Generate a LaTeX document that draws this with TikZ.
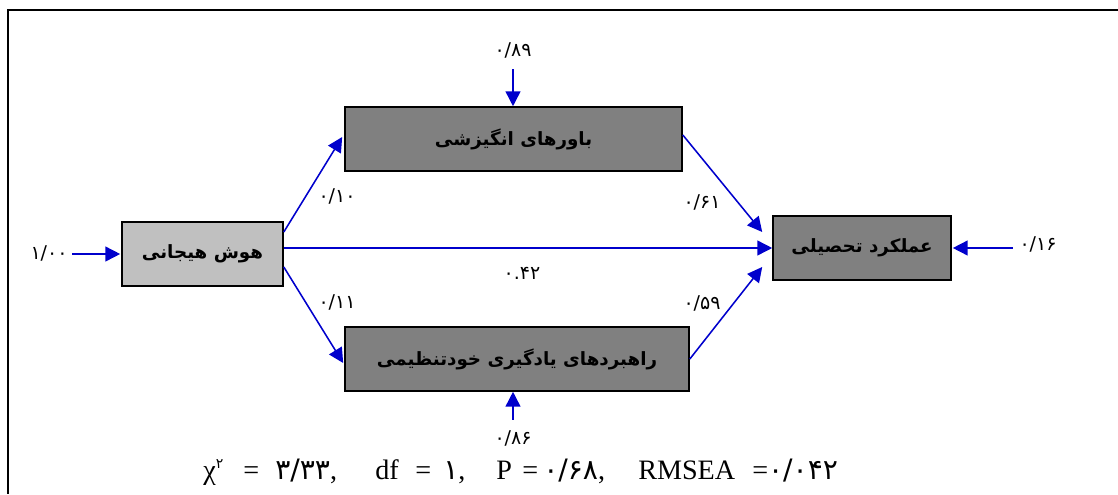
\documentclass[tikz,border=0pt]{standalone}
\usepackage{fontspec}
\setmainfont{Liberation Serif}
\newfontfamily\arabicfont[Script=Arabic]{DejaVu Sans}
\TeXXeTstate=1
\usetikzlibrary{arrows.meta,calc}
\definecolor{arrblue}{RGB}{0,0,204}
\definecolor{darkbox}{RGB}{128,128,128}
\definecolor{lightbox}{RGB}{192,192,192}
\newcommand\pxbox[2]{\makebox[\dimexpr 0.025cm*#1\relax][l]{#2}}
\newcommand\fadig[1]{{\arabicfont\fontsize{20}{22}\selectfont #1}}
\begin{document}
\begin{tikzpicture}[x=0.025cm,y=-0.025cm,
  box/.style={draw=black,line width=1.1pt,inner sep=0pt,minimum height=1.6cm,font=\arabicfont\bfseries\fontsize{13}{15}\selectfont},
  arr/.style={draw=arrblue,line width=1.1pt,-{Triangle[length=10.5pt,width=10.5pt]}},
  lbl/.style={inner sep=1pt,font=\arabicfont\fontsize{13.5}{15}\selectfont}]
\useasboundingbox (0,0) rectangle (1118,494);
\draw[line width=1.6pt] (1118,10) -- (8,10) -- (8,494);
% boxes
\node[box,fill=lightbox,minimum width=4.025cm] (lb) at (202.5,254) {\beginR هوش هیجانی\endR};
\node[box,fill=darkbox,minimum width=8.425cm] (tb) at (513.5,139) {\beginR باورهای انگیزشی\endR};
\node[box,fill=darkbox,minimum width=8.6cm] (bb) at (517,359) {\beginR راهبردهای یادگیری خودتنظیمی\endR};
\node[box,fill=darkbox,minimum width=4.45cm] (rb) at (862,248) {\beginR عملکرد تحصیلی\endR};
% error terms
\node[lbl] (e1) at (49,253) {۱/۰۰};
\node[lbl] (e2) at (513,50) {۰/۸۹};
\node[lbl] (e3) at (513,438) {۰/۸۶};
\node[lbl] (e4) at (1038,244) {۰/۱۶};
\draw[arr] ($(e1.east)+(3,1)$) -- ($(lb.west)+(-1,0)$);
\draw[arr] ($(e2.south)+(0,10)$) -- (e2 |- tb.north);
\draw[arr] ($(e3.north)+(0,-9)$) -- (e3 |- bb.south);
\draw[arr] ($(e4.west)+(-5,4)$) -- ($(rb.east)+(1,0)$);
% paths
\draw[arr] ($(lb.east)+(0,-22)$) -- ($(tb.west)+(-2,-2)$);
\draw[arr] ($(lb.east)+(0,13)$) -- ($(bb.west)+(-1,4)$);
\draw[arr] (lb.east |- rb.west) -- (rb.west);
\draw[arr] ($(tb.east)+(0,-4)$) -- ($(rb.west)+(-10,-16)$);
\draw[arr] (bb.east) -- ($(rb.west)+(-10,19)$);
% coefficients
\node[lbl] (c1) at (337,196) {۰/۱۰};
\node[lbl] (c2) at (337,302) {۰/۱۱};
\node[lbl] (c3) at (702,202) {۰/۶۱};
\node[lbl] (c4) at (702,303) {۰/۵۹};
\node[lbl] (c5) at (522,273) {۰.۴۲};
% fit
\node[inner sep=0pt,anchor=base west,font=\fontsize{20}{22}\selectfont] (fit) at (203,479)
 {\pxbox{40}{χ\textsuperscript{\arabicfont\fontsize{10}{11}\selectfont ۲}}\pxbox{32}{=}\pxbox{100}{\fadig{۳/۳۳},}\pxbox{40}{df}\pxbox{28}{=}\pxbox{53}{\fadig{۱},}\pxbox{26}{P}\pxbox{21}{=}\pxbox{95}{\fadig{۰/۶۸},}\pxbox{114}{RMSEA}=\fadig{۰/۰۴۲}};
\end{tikzpicture}
\end{document}
